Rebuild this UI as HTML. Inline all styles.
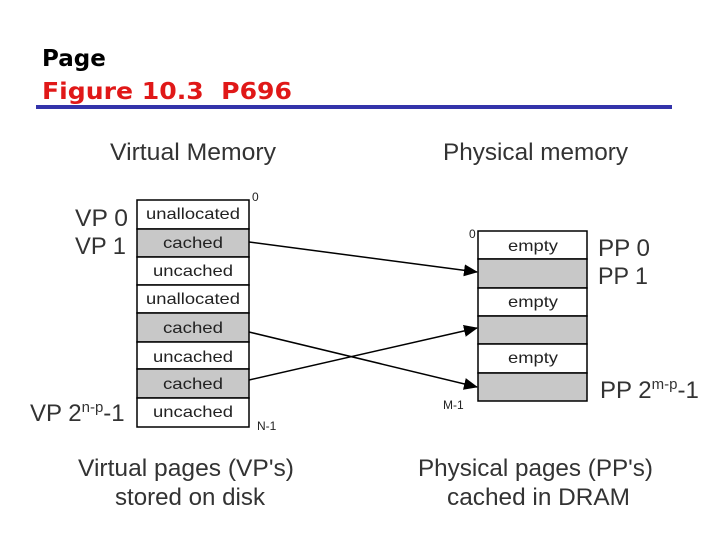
<!DOCTYPE html>
<html><head><meta charset="utf-8"><style>
html,body{margin:0;padding:0;background:#fff;}
svg{display:block;}
</style></head><body>
<svg width="720" height="540" xmlns="http://www.w3.org/2000/svg" font-family="Liberation Sans, sans-serif">
<text x="42" y="66" font-family="DejaVu Sans, sans-serif" font-weight="bold" font-size="23" fill="#000">Page</text>
<text x="42" y="99" font-family="DejaVu Sans, sans-serif" font-weight="bold" font-size="23" fill="#e01818" textLength="250" lengthAdjust="spacingAndGlyphs">Figure 10.3&#160;&#160;P696</text>
<rect x="36" y="105" width="636" height="4" fill="#3333aa"/>

<g fill="#333" font-size="24">
<text x="110" y="160" textLength="166" lengthAdjust="spacingAndGlyphs">Virtual Memory</text>
<text x="443" y="160" textLength="185" lengthAdjust="spacingAndGlyphs">Physical memory</text>
<text x="75" y="226" textLength="53" lengthAdjust="spacingAndGlyphs">VP 0</text>
<text x="75" y="254" textLength="51" lengthAdjust="spacingAndGlyphs">VP 1</text>
<text x="30" y="421">VP 2<tspan font-size="15" dy="-9">n-p</tspan><tspan dy="9">-1</tspan></text>
<text x="598" y="256" textLength="52" lengthAdjust="spacingAndGlyphs">PP 0</text>
<text x="598" y="284" textLength="50" lengthAdjust="spacingAndGlyphs">PP 1</text>
<text x="600" y="398">PP 2<tspan font-size="15" dy="-9">m-p</tspan><tspan dy="9">-1</tspan></text>
<text x="78" y="476" textLength="216" lengthAdjust="spacingAndGlyphs">Virtual pages (VP's)</text>
<text x="115" y="505" textLength="150" lengthAdjust="spacingAndGlyphs">stored on disk</text>
<text x="418" y="476" textLength="235" lengthAdjust="spacingAndGlyphs">Physical pages (PP's)</text>
<text x="447" y="505" textLength="183" lengthAdjust="spacingAndGlyphs">cached in DRAM</text>
</g>

<g stroke="#000" stroke-width="1.5">
<rect x="137" y="200" width="112" height="29" fill="#fff"/>
<rect x="137" y="229" width="112" height="28" fill="#c8c8c8"/>
<rect x="137" y="257" width="112" height="28" fill="#fff"/>
<rect x="137" y="285" width="112" height="28" fill="#fff"/>
<rect x="137" y="313" width="112" height="29" fill="#c8c8c8"/>
<rect x="137" y="342" width="112" height="27" fill="#fff"/>
<rect x="137" y="369" width="112" height="29" fill="#c8c8c8"/>
<rect x="137" y="398" width="112" height="29" fill="#fff"/>

<rect x="478" y="231" width="109" height="28" fill="#fff"/>
<rect x="478" y="259" width="109" height="29" fill="#c8c8c8"/>
<rect x="478" y="288" width="109" height="28" fill="#fff"/>
<rect x="478" y="316" width="109" height="28" fill="#c8c8c8"/>
<rect x="478" y="344" width="109" height="29" fill="#fff"/>
<rect x="478" y="373" width="109" height="28" fill="#c8c8c8"/>
</g>

<g fill="#222" font-size="16" text-anchor="middle">
<text x="193" y="219" textLength="94" lengthAdjust="spacingAndGlyphs">unallocated</text>
<text x="193" y="248" textLength="60" lengthAdjust="spacingAndGlyphs">cached</text>
<text x="193" y="276" textLength="80" lengthAdjust="spacingAndGlyphs">uncached</text>
<text x="193" y="304" textLength="94" lengthAdjust="spacingAndGlyphs">unallocated</text>
<text x="193" y="333" textLength="60" lengthAdjust="spacingAndGlyphs">cached</text>
<text x="193" y="362" textLength="80" lengthAdjust="spacingAndGlyphs">uncached</text>
<text x="193" y="389" textLength="60" lengthAdjust="spacingAndGlyphs">cached</text>
<text x="193" y="417" textLength="80" lengthAdjust="spacingAndGlyphs">uncached</text>
<text x="533" y="251" textLength="50" lengthAdjust="spacingAndGlyphs">empty</text>
<text x="533" y="307" textLength="50" lengthAdjust="spacingAndGlyphs">empty</text>
<text x="533" y="363" textLength="50" lengthAdjust="spacingAndGlyphs">empty</text>
</g>
<g fill="#222" font-size="12">
<text x="252" y="201">0</text>
<text x="257" y="430">N-1</text>
<text x="469" y="238">0</text>
<text x="443" y="409">M-1</text>
</g>

<defs><marker id="a" markerWidth="14" markerHeight="14" refX="13" refY="7" orient="auto" markerUnits="userSpaceOnUse"><path d="M0,1 L14,7 L0,13 z" fill="#000"/></marker></defs>
<g stroke="#000" stroke-width="1.5" fill="none" marker-end="url(#a)">
<line x1="249" y1="242" x2="477" y2="272"/>
<line x1="249" y1="332" x2="477" y2="387"/>
<line x1="249" y1="380" x2="477" y2="328"/>
</g>
</svg>
</body></html>
